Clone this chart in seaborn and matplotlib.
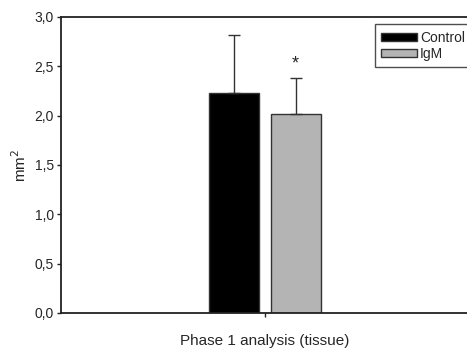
import matplotlib
matplotlib.use("Agg")
import matplotlib.pyplot as plt
import seaborn as sns
import pandas as pd
from matplotlib.patches import Patch

groups = ["Control", "IgM"]
means = [2.23, 2.02]
errors = [0.59, 0.36]
category = ["Phase 1 analysis (tissue)"]
ytick_vals = [0.0, 0.5, 1.0, 1.5, 2.0, 2.5, 3.0]
ytick_labels = ["0,0", "0,5", "1,0", "1,5", "2,0", "2,5", "3,0"]
colors = ["#000000", "#b4b4b4"]

sns.set_style("white")
plt.rcParams["font.family"] = ["Liberation Sans", "DejaVu Sans"]

df = pd.DataFrame({"cat": category * len(groups), "group": groups, "value": means})

fig = plt.figure(figsize=(4.67, 3.52), dpi=100)
ax = fig.add_axes([61 / 467, 39 / 352, 408 / 467, 296 / 352])

sns.barplot(data=df, x="cat", y="value", hue="group", palette=colors,
            width=0.8, gap=0.19, edgecolor="#333333", linewidth=1.0,
            errorbar=None, legend=False, ax=ax)

# error bars (upper only)
for patch, m, e in zip(sorted(ax.patches, key=lambda p: p.get_x()), means, errors):
    cx = patch.get_x() + patch.get_width() / 2
    ax.errorbar([cx], [m], yerr=[[0], [e]], fmt="none", ecolor="#333333",
                elinewidth=1.0, capsize=4, capthick=1.0)
    if patch.get_facecolor()[0] > 0.5:
        ax.text(cx, m + e + 0.06, "*", ha="center", va="bottom", fontsize=13)

ax.set_xlim(-1.329, 1.329)
ax.set_ylim(0, 3.0)
ax.set_yticks(ytick_vals)
ax.set_yticklabels(ytick_labels, fontsize=10)
ax.set_xticks([0])
ax.set_xticklabels([""])
ax.set_xlabel(category[0], fontsize=11, labelpad=10)
ax.set_ylabel("mm$^2$", fontsize=11, labelpad=4)
ax.tick_params(axis="both", length=3, width=1, direction="out", color="#222222", pad=2,
               left=True, bottom=True)

for s in ["left", "bottom", "top"]:
    ax.spines[s].set_visible(True)
    ax.spines[s].set_color("#222222")
    ax.spines[s].set_linewidth(1.3)
ax.spines["right"].set_visible(False)

handles = [Patch(facecolor=c, edgecolor="#333333", label=g) for c, g in zip(colors, groups)]
leg = ax.legend(handles=handles, loc="upper right", bbox_to_anchor=(1.005, 0.975),
                frameon=True, fancybox=False, fontsize=10, handlelength=2.6,
                handleheight=0.55, handletextpad=0.2, borderpad=0.45, labelspacing=0.15,
                borderaxespad=0.0)
leg.get_frame().set_edgecolor("#222222")
leg.get_frame().set_linewidth(1.0)

fig.savefig("out.png", dpi=100)
